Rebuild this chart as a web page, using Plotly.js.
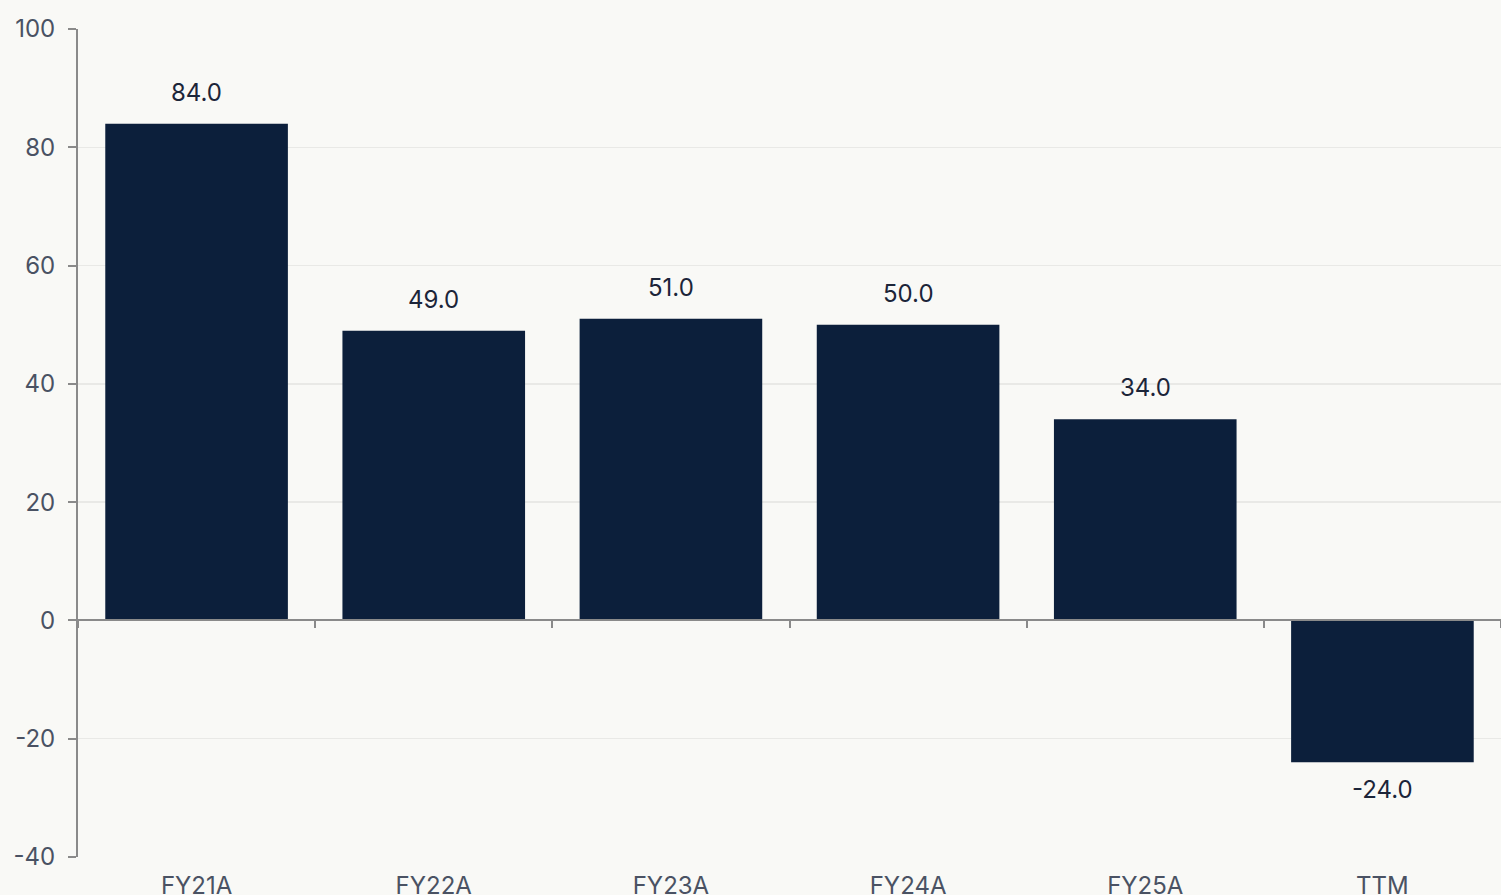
<!DOCTYPE html>
<html>
<head>
<meta charset="utf-8">
<script src="https://cdn.plot.ly/plotly-3.0.1.min.js"></script>
<style>
html,body{margin:0;padding:0;background:#f9f9f6;}
#chart{width:1501px;height:895px;}
</style>
</head>
<body>
<div id="chart"></div>
<script>
const categories = ["FY21A", "FY22A", "FY23A", "FY24A", "FY25A", "TTM"];
const values = [84.0, 49.0, 51.0, 50.0, 34.0, -24.0];
const yTicks = [-40, -20, 0, 20, 40, 60, 80, 100];

const bg = "#f9f9f6";
const barColor = "#0c1f3b";
const yMin = -40, yMax = 100;

const trace = {
  type: "bar",
  x: categories,
  y: values,
  marker: {color: barColor, line: {width: 0}},
  hoverinfo: "skip",
  xaxis: "x",
  yaxis: "y"
};

// ghost trace to bind the secondary (zero-line) category axis
const ghost = {
  type: "bar",
  x: categories,
  y: values.map(() => 0),
  marker: {color: "rgba(0,0,0,0)"},
  hoverinfo: "skip",
  xaxis: "x2",
  yaxis: "y",
  showlegend: false
};

const annotations = values.map((v, i) => ({
  x: categories[i],
  y: v,
  xref: "x",
  yref: "y",
  text: v.toFixed(1),
  showarrow: false,
  yanchor: v >= 0 ? "bottom" : "top",
  yshift: v >= 0 ? 15 : -11,
  font: {family: "Inter, 'Noto Sans', sans-serif", size: 24, color: "#1c2539"}
}));

const layout = {
  width: 1501,
  height: 895,
  paper_bgcolor: bg,
  plot_bgcolor: bg,
  margin: {l: 78, r: 0, t: 29, b: 38},
  showlegend: false,
  bargap: 0.23,
  barmode: "overlay",
  font: {family: "Inter, 'Noto Sans', sans-serif"},
  xaxis: {
    type: "category",
    showgrid: false,
    zeroline: false,
    showline: false,
    ticks: "",
    tickfont: {size: 24, color: "#4a5263"},
    ticklabelstandoff: 12,
    fixedrange: true
  },
  xaxis2: {
    type: "category",
    overlaying: "x",
    matches: "x",
    anchor: "free",
    position: (0 - yMin) / (yMax - yMin),
    showline: true,
    linecolor: "#8a8a8a",
    linewidth: 2,
    ticks: "outside",
    tickson: "boundaries",
    ticklen: 7,
    tickwidth: 2,
    tickcolor: "#8a8a8a",
    showticklabels: false,
    showgrid: false,
    zeroline: false
  },
  yaxis: {
    range: [yMin, yMax],
    tickvals: yTicks,
    ticktext: yTicks.map(String),
    showgrid: true,
    gridcolor: "#e9e9e6",
    gridwidth: 1.5,
    zeroline: false,
    showline: true,
    linecolor: "#8a8a8a",
    linewidth: 2,
    ticks: "outside",
    ticklen: 8,
    tickwidth: 2,
    tickcolor: "#8a8a8a",
    tickfont: {size: 24, color: "#4a5263"},
    ticklabelstandoff: 8,
    fixedrange: true
  },
  annotations: annotations
};

Plotly.newPlot("chart", [trace, ghost], layout, {displayModeBar: false, staticPlot: true});
</script>
</body>
</html>
